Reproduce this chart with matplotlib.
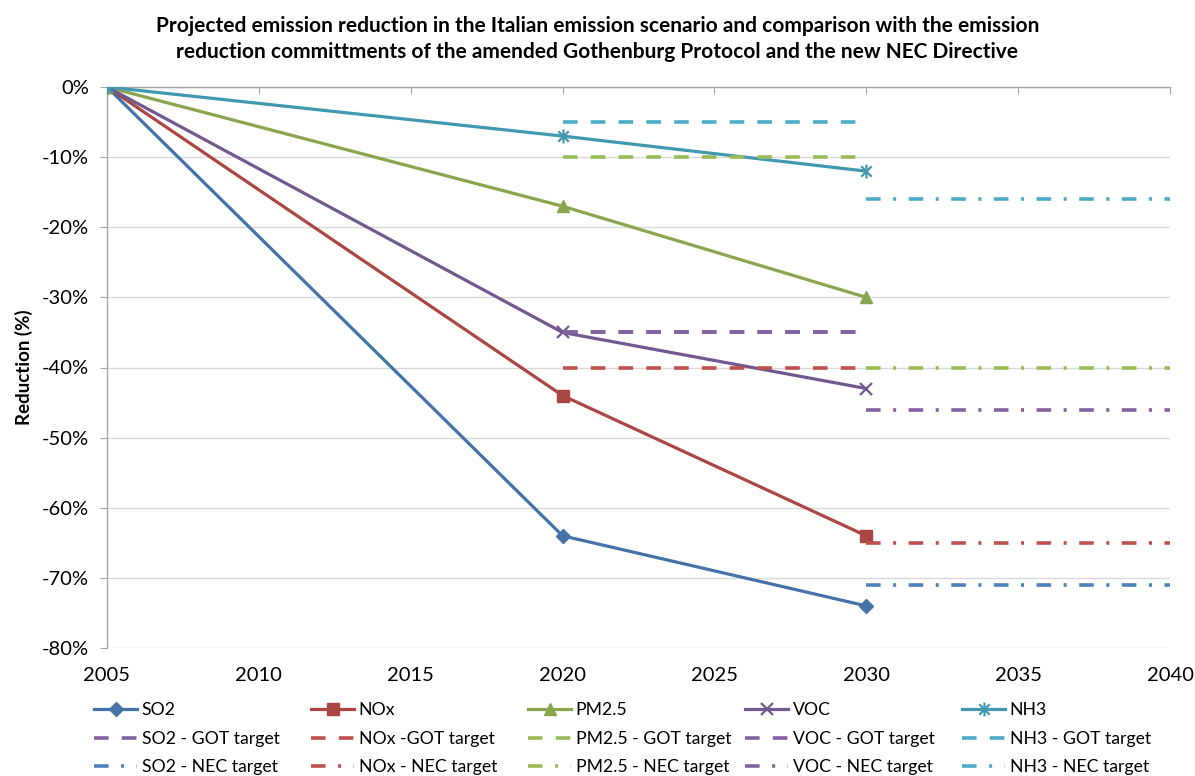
import matplotlib
matplotlib.use("Agg")
import matplotlib.pyplot as plt
from matplotlib.path import Path

plt.rcParams['font.family'] = ['Lato', 'DejaVu Sans']
plt.rcParams['lines.scale_dashes'] = False

# ---- data ----
years = [2005, 2020, 2030]
pollutants = ["SO2", "NOx", "PM2.5", "VOC", "NH3"]
so2 = [0, -64, -74]
nox = [0, -44, -64]
pm25 = [0, -17, -30]
voc = [0, -35, -43]
nh3 = [0, -7, -12]
series_values = [so2, nox, pm25, voc, nh3]

got_years = [2020, 2030]
got_targets = [-35, -40, -10, -35, -5]   # Gothenburg Protocol commitments (2020)
nec_years = [2030, 2040]
nec_targets = [-71, -65, -40, -46, -16]  # NEC Directive commitments (2030)

got_labels = ["SO2 - GOT target", "NOx -GOT target", "PM2.5 - GOT target",
              "VOC - GOT target", "NH3 - GOT target"]
nec_labels = ["SO2 - NEC target", "NOx - NEC target", "PM2.5 - NEC target",
              "VOC - NEC target", "NH3 - NEC target"]

x_ticks = [2005, 2010, 2015, 2020, 2025, 2030, 2035, 2040]
y_ticks = [0, -10, -20, -30, -40, -50, -60, -70, -80]

# ---- styles ----
series_colors = ['#4572A7', '#AA4643', '#89A54E', '#71588F', '#4198AF']
got_colors = ['#8064A2', '#C0504D', '#9BBB59', '#8064A2', '#4BACC6']
nec_colors = ['#4F81BD', '#C0504D', '#9BBB59', '#8064A2', '#4BACC6']

star = Path([(0, -1), (0, 1), (-0.75, -0.75), (0.75, 0.75), (-0.75, 0.75), (0.75, -0.75)],
            [Path.MOVETO, Path.LINETO, Path.MOVETO, Path.LINETO, Path.MOVETO, Path.LINETO])
markers = ['D', 's', '^', 'x', star]
msizes = [7, 8.5, 9, 9, 10]

fig = plt.figure(figsize=(11.95, 7.76), dpi=100)
ax = fig.add_axes([107/1195, 1 - 648/776, (1170 - 107)/1195, (648 - 87)/776])

handles = []
for i, p in enumerate(pollutants):
    mk = markers[i]
    kw = dict(color=series_colors[i], lw=2.3, marker=mk, markersize=msizes[i], zorder=3)
    if mk == 'x' or mk is star:
        kw.update(markeredgewidth=1.6, markerfacecolor='none', markeredgecolor=series_colors[i])
    else:
        kw.update(markeredgecolor=series_colors[i], markerfacecolor=series_colors[i])
    h, = ax.plot(years, series_values[i], label=p, **kw)
    handles.append(h)

got_handles = []
for i, p in enumerate(pollutants):
    h, = ax.plot(got_years, [got_targets[i]] * 2, color=got_colors[i], lw=2.6,
                 dashes=(10.5, 9.5), label=got_labels[i], zorder=4)
    got_handles.append(h)

nec_handles = []
for i, p in enumerate(pollutants):
    h, = ax.plot(nec_years, [nec_targets[i]] * 2, color=nec_colors[i], lw=2.6,
                 dashes=(10.5, 9.0, 2.2, 9.0), label=nec_labels[i], zorder=4)
    nec_handles.append(h)

ax.set_xlim(2005, 2040)
ax.set_ylim(-80, 0)
ax.set_xticks(x_ticks)
ax.set_xticklabels([str(x) for x in x_ticks])
ax.set_yticks(y_ticks)
ax.set_yticklabels([f"{v}%" for v in y_ticks])

ax.yaxis.grid(True, color='#D9D9D9', lw=1.0, zorder=0)
ax.set_axisbelow(True)
for s in ['right', 'bottom']:
    ax.spines[s].set_visible(False)
for s in ['left', 'top']:
    ax.spines[s].set_color('#A6A6A6')
    ax.spines[s].set_linewidth(1.0)
ax.tick_params(axis='y', direction='out', length=5, color='#A6A6A6', labelsize=14.5, pad=8)
ax.tick_params(axis='x', direction='in', length=5, color='#A6A6A6', labelsize=14.5,
               top=True, bottom=False, labeltop=False, labelbottom=True, pad=14)
ax.set_ylabel("Reduction (%)", fontsize=13.5, fontweight='bold', labelpad=6)

fig.suptitle("Projected emission reduction in the Italian emission scenario and comparison with the emission\n"
             "reduction committments of the amended Gothenburg Protocol and the new NEC Directive",
             fontsize=15, fontweight='bold', y=0.98, linespacing=1.4)

col_x = [94, 311, 528, 745, 962]
for i in range(5):
    hs = [handles[i], got_handles[i], nec_handles[i]]
    fig.legend(hs, [h.get_label() for h in hs], loc='upper left',
               bbox_to_anchor=(col_x[i] / 1195, 1 - 702 / 776),
               frameon=False, fontsize=12.7, handlelength=2.45,
               handletextpad=0.25, labelspacing=0.72, borderaxespad=0, borderpad=0)

fig.savefig("out.png", dpi=100)
